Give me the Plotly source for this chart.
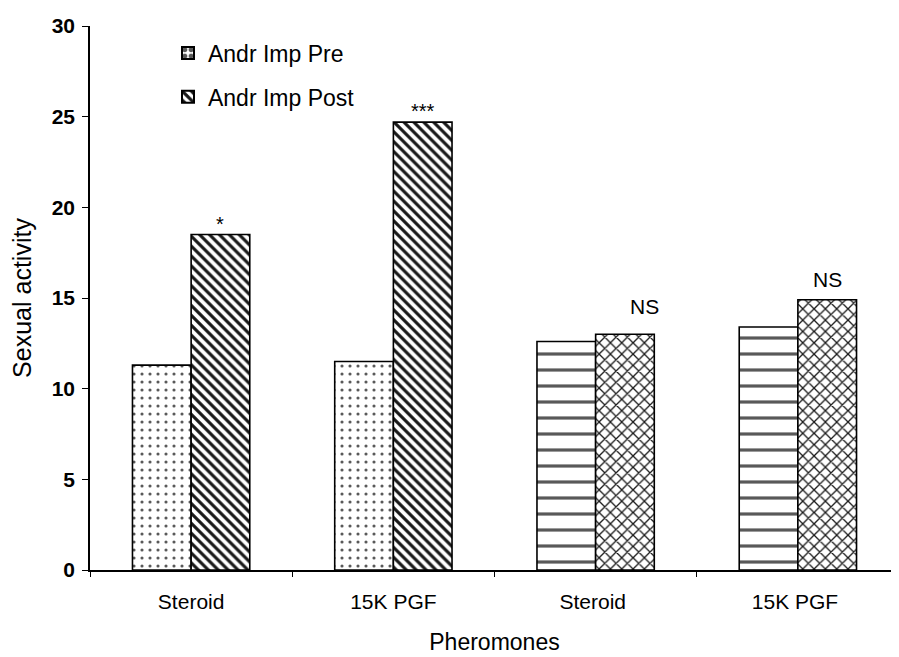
import plotly.graph_objects as go

categories = ["Steroid", "15K PGF", "Steroid ", "15K PGF "]
pre_values = [11.3, 11.5, 12.6, 13.4]
post_values = [18.5, 24.7, 13.0, 14.9]
sig_labels = ["*", "***", "NS", "NS"]
y_ticks = [0, 5, 10, 15, 20, 25, 30]

FONT = "Liberation Sans, Arial, sans-serif"

pre_shapes = [".", ".", "-", "-"]
post_shapes = ["\\", "\\", "x", "x"]

fig = go.Figure()
fig.add_trace(go.Bar(
    name="Andr Imp Pre", x=categories, y=pre_values, legendgroup="pre",
    marker=dict(color="white", line=dict(color="black", width=1.6),
                pattern=dict(shape=pre_shapes, size=[8, 8, 16, 16], solidity=[0.12, 0.12, 0.2, 0.2],
                             fgcolor="black", bgcolor="white", fgopacity=0.65)),
))
fig.add_trace(go.Bar(
    name="Andr Imp Post", x=categories, y=post_values, legendgroup="post",
    marker=dict(color="white", line=dict(color="black", width=1.6),
                pattern=dict(shape=post_shapes, size=[7, 7, 8, 8], solidity=[0.45, 0.45, 0.3, 0.3],
                             fgcolor="black", bgcolor="white", fgopacity=0.9)),
))

bw = (1 - 0.42) / 2
for i, (lab, v) in enumerate(zip(sig_labels, post_values)):
    is_ns = lab == "NS"
    fig.add_annotation(x=i + bw / 2, y=v, xref="x", yref="y", text=lab,
                       showarrow=False, yanchor="bottom",
                       yshift=(14 if i == 2 else 7) if is_ns else -2,
                       xshift=20 if i == 2 else 0,
                       font=dict(family=FONT, size=21 if is_ns else 20, color="black"))

fig.update_layout(
    width=891, height=649,
    margin=dict(l=82, r=0, t=18, b=87),
    plot_bgcolor="white", paper_bgcolor="white",
    barmode="group", bargap=0.42, bargroupgap=0,
    font=dict(family=FONT, color="black"),
    showlegend=True,
    legend=dict(x=0.0964, y=0.99, xanchor="left", yanchor="top", bgcolor="rgba(0,0,0,0)",
                font=dict(size=23), tracegroupgap=11, itemsizing="constant"),
    xaxis=dict(showline=True, linecolor="black", linewidth=1.5, ticks="outside", tickson="boundaries",
               ticklen=5, tickcolor="black", range=[-0.5, 3.5], ticklabelstandoff=12,
               tickfont=dict(size=21), title=dict(text="Pheromones", font=dict(size=23), standoff=22)),
    yaxis=dict(showline=True, linecolor="black", linewidth=1.5, ticks="outside", ticklen=6,
               tickcolor="black", range=[0, 30], tickvals=y_ticks, showgrid=False, zeroline=False,
               tickfont=dict(size=21, family=FONT, weight="bold"), ticklabelstandoff=3,
               title=dict(text="Sexual activity", font=dict(size=25), standoff=14)),
)
fig.write_html("out.html")
